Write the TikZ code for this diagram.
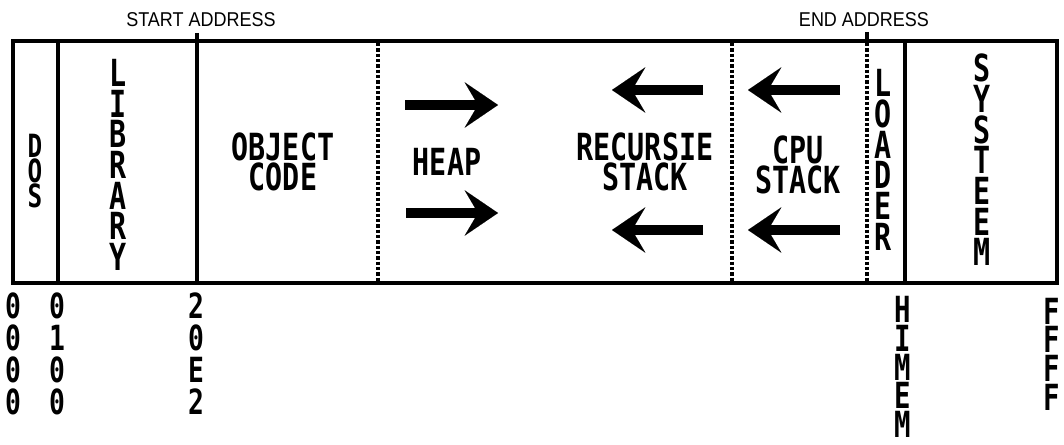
\documentclass[tikz,border=0pt]{standalone}
\usepackage{fontspec}
\usetikzlibrary{arrows.meta}
\newfontfamily\pix[FakeStretch=0.76]{DejaVu Sans Mono}
\newfontfamily\thinsans[FakeStretch=0.9]{Liberation Sans}
\tikzset{
  frame/.style={line width=2.4pt},
  divider/.style={line width=2.6pt},
  dotdiv/.style={line width=2.4pt, dash pattern=on 2.4pt off 1.6pt},
  bigarrow/.style={line width=6.8pt, -{Stealth[length=25pt,width=34pt,inset=10pt,line width=0.01pt]}},
  biglbl/.style={font=\pix\bfseries\fontsize{28}{22.5}\selectfont, inner sep=0pt, align=center},
  vstack/.style={font=\pix\bfseries\fontsize{28}{23}\selectfont, inner sep=0pt, align=center},
  smallstack/.style={font=\pix\bfseries\fontsize{24}{19}\selectfont, inner sep=0pt, align=center},
  digstack/.style={font=\pix\bfseries\fontsize{26}{24}\selectfont, inner sep=0pt, align=center},
  hexstack/.style={font=\pix\bfseries\fontsize{27}{21.5}\selectfont, inner sep=0pt, align=center},
  toplbl/.style={font=\thinsans\fontsize{15}{16}\selectfont, inner sep=0pt}
}
\begin{document}
\begin{tikzpicture}[x=0.75pt,y=-0.75pt]
\useasboundingbox (0,0) rectangle (1064,445);
% frame
\draw[frame] (13,41) rectangle (1057,283);
% solid dividers
\draw[divider] (58,41) -- (58,283);
\draw[divider] (197,33) -- (197,283);
\draw[divider] (905,41) -- (905,283);
% dotted dividers
\draw[dotdiv] (378,43) -- (378,281);
\draw[dotdiv] (732,43) -- (732,281);
\draw[dotdiv] (867,43) -- (867,281);
\draw[divider] (867,32) -- (867,42);
% top labels
\node[toplbl] (start) at (201,20) {START ADDRESS};
\node[toplbl] (end) at (864,20) {END ADDRESS};
% section labels
\node[smallstack] (dos) at (35,171) {D\\O\\S};
\node[vstack] (lib) at (118,165) {L\\I\\B\\R\\A\\R\\Y};
\node[biglbl] (obj) at (283,162) {OBJECT\\CODE};
\node[biglbl] (heap) at (447,162) {HEAP};
\node[biglbl] (rec) at (645,162) {RECURSIE\\STACK};
\node[biglbl] (cpu) at (798,165) {CPU\\STACK};
\node[vstack] (loader) at (883,160) {L\\O\\A\\D\\E\\R};
\node[vstack] (sys) at (982,160) {S\\Y\\S\\T\\E\\E\\M};
% arrows
\coordinate (ha1) at (405,105); \coordinate (hb1) at (498,105);
\coordinate (ha2) at (406,213); \coordinate (hb2) at (498,213);
\coordinate (ra1) at (703,90);  \coordinate (rb1) at (612,90);
\coordinate (ra2) at (703,230); \coordinate (rb2) at (612,230);
\coordinate (ca1) at (840,90);  \coordinate (cb1) at (748,90);
\coordinate (ca2) at (840,230); \coordinate (cb2) at (748,230);
\draw[bigarrow] (ha1) -- (hb1);
\draw[bigarrow] (ha2) -- (hb2);
\draw[bigarrow] (ra1) -- (rb1);
\draw[bigarrow] (ra2) -- (rb2);
\draw[bigarrow] (ca1) -- (cb1);
\draw[bigarrow] (ca2) -- (cb2);
% bottom addresses
\node[digstack] (a0000) at (13,354) {0\\0\\0\\0};
\node[digstack] (a0100) at (57,354) {0\\1\\0\\0};
\node[digstack] (a20e2) at (196,354) {2\\0\\E\\2};
\node[hexstack] (himem) at (903,367) {H\\I\\M\\E\\M};
\node[hexstack] (ffff) at (1052,354) {F\\F\\F\\F};
\end{tikzpicture}
\end{document}
